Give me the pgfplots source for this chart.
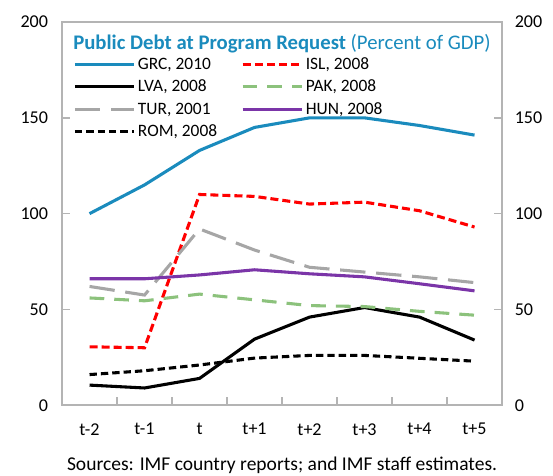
\documentclass[border=0pt]{standalone}
\usepackage{fontspec}
\setmainfont{Carlito}
\usepackage{pgfplots}
\pgfplotsset{compat=1.18}

\definecolor{grc}{HTML}{1A8BBD}
\definecolor{isl}{HTML}{FF0000}
\definecolor{pak}{HTML}{8CC27C}
\definecolor{tur}{HTML}{A6A6A6}
\definecolor{hun}{HTML}{7B35A8}
\definecolor{frame}{HTML}{B4B4B4}

\begin{document}
\begin{tikzpicture}
\begin{axis}[
    name=main,
    width=329pt, height=286.5pt, scale only axis,
    xmin=-0.5, xmax=7.5, ymin=0, ymax=200,
    xtick={0,...,7},
    xticklabels={t-2,t-1,t,t+1,t+2,t+3,t+4,t+5},
    minor xtick={0.5,1.5,...,6.5},
    major x tick style={draw=none},
    xtick pos=bottom,
    ytick={0,50,...,200},
    major tick length=6pt, minor tick length=6pt,
    tick style={frame, line width=1.1pt},
    axis line style={frame, line width=1.1pt},
    tick label style={font=\fontsize{13.5}{15}\selectfont},
    xticklabel style={yshift=-10pt},
    yticklabel style={xshift=-7pt},
    /pgf/number format/assume math mode=true,
    legend columns=2,
    legend cell align=left,
    legend style={at={(0.016,0.922)}, anchor=north west, draw=none, fill=none,
                  font=\fontsize{13}{15}\selectfont, row sep=2.4pt,
                  /tikz/every even column/.append style={column sep=16pt}},
    legend image code/.code={\draw[#1] (0pt,0pt) -- (44pt,0pt);},
    every axis plot/.append style={line width=2.3pt},
]
\addplot[grc] coordinates {(0,100) (1,115) (2,133) (3,145) (4,150) (5,150) (6,146) (7,141)};
\addplot[isl, dash pattern=on 6pt off 3pt] coordinates {(0,30.5) (1,30) (2,110) (3,109) (4,105) (5,106) (6,101.5) (7,93)};
\addplot[black] coordinates {(0,10.5) (1,9) (2,14) (3,34.5) (4,46) (5,51) (6,46) (7,34)};
\addplot[pak, dash pattern=on 11pt off 7.5pt] coordinates {(0,56) (1,54.5) (2,58) (3,55) (4,52) (5,51.5) (6,49) (7,47)};
\addplot[tur, dash pattern=on 19pt off 8pt] coordinates {(0,62) (1,57.5) (2,92) (3,81) (4,72) (5,69.5) (6,67) (7,64)};
\addplot[hun] coordinates {(0,66) (1,66) (2,68) (3,70.7) (4,68.6) (5,67) (6,63.4) (7,59.7)};
\addplot[black, dash pattern=on 5.5pt off 3pt] coordinates {(0,16) (1,18) (2,21) (3,24.6) (4,26) (5,26) (6,24.5) (7,23)};
\legend{GRC{,} 2010, ISL{,} 2008, LVA{,} 2008, PAK{,} 2008, TUR{,} 2001, HUN{,} 2008, ROM{,} 2008}
\node[anchor=west, text=grc, inner sep=0pt] at (rel axis cs:0.025,0.944)
  {\fontsize{15.5}{17}\selectfont\textbf{Public Debt at Program Request} (Percent of GDP)};
\end{axis}
\begin{axis}[
    width=329pt, height=286.5pt, scale only axis,
    xmin=-0.5, xmax=7.5, ymin=0, ymax=200,
    xtick=\empty,
    ytick={0,50,...,200},
    yticklabel pos=right,
    ytick style={draw=none},
    axis line style={draw=none},
    tick label style={font=\fontsize{13.5}{15}\selectfont},
    yticklabel style={xshift=6pt},
    /pgf/number format/assume math mode=true,
]
\end{axis}
\node[anchor=center, inner sep=0pt] at ([yshift=-45pt]main.south)
  {\fontsize{14.6}{16}\selectfont Sources: IMF country reports; and IMF staff estimates.};
\path[use as bounding box] ([xshift=-46.4pt,yshift=-52.4pt]main.south west)
  rectangle ([xshift=38.1pt,yshift=16.5pt]main.north east);
\end{tikzpicture}
\end{document}
